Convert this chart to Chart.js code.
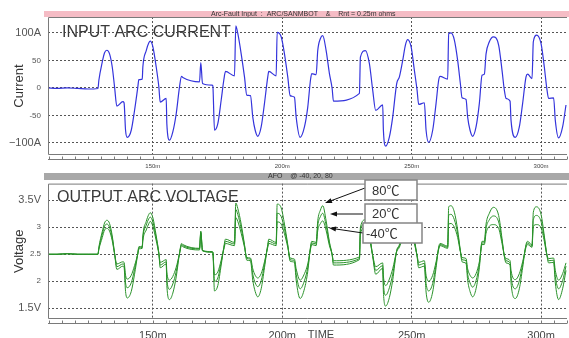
<!DOCTYPE html>
<html>
<head>
<meta charset="utf-8">
<script src="https://cdn.jsdelivr.net/npm/chart.js@4"></script>
<style>
  body { margin: 0; background: #fff; }
  #wrap { position: relative; width: 569px; height: 338px; overflow: hidden; background: #fff; }
  canvas { position: absolute; left: 0; }
  #currentChart { top: 0; }
  #voltageChart { top: 170px; }
</style>
</head>
<body>
<div id="wrap">
  <canvas id="currentChart" width="569" height="170"></canvas>
  <canvas id="voltageChart" width="569" height="168"></canvas>
</div>
<script>
// sample times in ms
const timeMs = [109.5, 113, 117, 121, 125, 128.8,
  129.15, 130.46, 131.35, 132.24, 133.28, 134.32, 135.21, 136.1, 138.42, 138.88,
  139.46, 140.12, 141.66, 142.93, 144.21, 144.59, 145.91, 146.14, 147.45, 148.46,
  149.0, 150.0, 151.31, 152.32, 152.86, 155.17, 155.41, 156.45, 157.72, 159.03,
  160.31, 161.08, 161.58, 168.03, 168.53, 169.19, 172.86, 173.17, 173.82, 175.1,
  176.41, 177.41, 178.07, 181.54, 182.05, 182.82, 184.13, 185.41, 186.29, 187.72,
  188.61, 189.54, 190.54, 191.85, 193.13, 194.4, 194.79, 197.64, 198.03, 199.58,
  200.85, 202.12, 203.05, 204.71, 205.37, 206.91, 208.57, 209.85, 210.89, 211.39,
  213.09, 213.71, 214.75, 215.64, 216.95, 218.22, 219.27, 219.77, 229.81, 230.19,
  232.12, 233.67, 234.94, 236.1, 238.8, 239.07, 239.96, 241.39, 242.66, 244.21,
  245.25, 246.53, 247.57, 248.46, 249.77, 251.04, 252.08, 252.7, 254.9, 255.56,
  256.56, 258.11, 259.42, 260.42, 260.96, 263.9, 264.29, 265.21, 266.49, 267.76,
  268.8, 269.46, 271.0, 271.62, 272.55, 273.55, 274.86, 276.14, 277.18, 278.07,
  278.73, 280.0, 281.54, 283.59, 284.9, 285.79, 286.45, 288.0, 288.38, 290.04,
  291.58, 292.86, 294.17, 294.79, 296.49, 296.99, 298.26, 299.96, 301.24, 302.12,
  302.9, 304.83, 305.48, 306.76, 308.3, 309.61];

const currentA = [0, -1, 0, -1, -2, -1,
  14, 47, 64, 68.5, 62, 38, 2, -33, -25, -27,
  -77, -90, -77, -41, 2, 15, 16, 38, 68, 82,
  85, 75, 38, 2, -26, -19, -65, -95, -80, -47,
  2, 21, 19, 11, 46, 8, 5, 4, -77, -65,
  -22, 14, 30, 22, 113, 99, 62, 20, -13, -14,
  -53, -77, -88, -71, -28, 20, 30, 22, 101, 93,
  62, 20, -14, -17, -53, -90, -71, -35, 14, 26,
  24, 68, 90, 95, 68, 26, -1, -24, -10, 56,
  68, 44, -4, -41, -31, -77, -106, -89, -53, 8,
  20, 50, 78, 88, 75, 32, -4, -30, -27, -77,
  -99, -77, -28, 14, 21, 16, 99, 100, 87, 50,
  8, -18, -21, -53, -77, -88, -71, -28, 23, 25,
  62, 84, 93, 78, 32, -4, -19, -24, -59, -90,
  -71, -28, 20, 25, 17, 84, 96, 81, 38, 2,
  -19, -18, -59, -91, -71, -31];

const volt80 = [2.50, 2.50, 2.51, 2.50, 2.50, 2.50,
  2.63, 2.92, 3.08, 3.13, 3.07, 2.84, 2.52, 2.22, 2.28, 2.26,
  1.81, 1.69, 1.81, 2.13, 2.52, 2.64, 2.65, 2.84, 3.11, 3.24,
  3.27, 3.18, 2.84, 2.52, 2.25, 2.32, 1.92, 1.66, 1.78, 2.08,
  2.52, 2.70, 2.68, 2.61, 2.93, 2.57, 2.55, 2.54, 1.82, 1.92,
  2.30, 2.63, 2.78, 2.72, 3.45, 3.35, 3.06, 2.68, 2.39, 2.38,
  2.02, 1.81, 1.71, 1.86, 2.25, 2.68, 2.78, 2.72, 3.43, 3.36,
  3.06, 2.68, 2.37, 2.35, 2.02, 1.68, 1.86, 2.18, 2.63, 2.74,
  2.72, 3.12, 3.32, 3.40, 3.12, 2.73, 2.49, 2.30, 2.40, 3.00,
  3.14, 2.90, 2.46, 2.13, 2.24, 1.80, 1.54, 1.70, 2.02, 2.57,
  2.68, 2.95, 3.20, 3.33, 3.20, 2.79, 2.46, 2.25, 2.28, 1.80,
  1.61, 1.80, 2.25, 2.63, 2.70, 2.65, 3.38, 3.40, 3.28, 2.95,
  2.57, 2.36, 2.33, 2.02, 1.81, 1.71, 1.86, 2.25, 2.74, 2.74,
  3.06, 3.26, 3.37, 3.22, 2.79, 2.46, 2.34, 2.30, 1.97, 1.68,
  1.86, 2.25, 2.68, 2.74, 2.67, 3.28, 3.38, 3.24, 2.84, 2.52,
  2.34, 2.35, 1.97, 1.66, 1.86, 2.20];

const volt20 = [2.50, 2.50, 2.51, 2.50, 2.50, 2.50,
  2.61, 2.87, 3.02, 3.06, 3.00, 2.80, 2.52, 2.27, 2.32, 2.31,
  1.97, 1.88, 1.97, 2.22, 2.52, 2.62, 2.63, 2.80, 3.04, 3.16,
  3.19, 3.10, 2.80, 2.52, 2.30, 2.36, 2.05, 1.85, 1.95, 2.18,
  2.52, 2.68, 2.66, 2.60, 2.91, 2.57, 2.54, 2.54, 2.00, 2.06,
  2.35, 2.61, 2.74, 2.69, 3.33, 3.24, 2.98, 2.66, 2.42, 2.41,
  2.13, 1.97, 1.90, 2.01, 2.31, 2.66, 2.74, 2.69, 3.26, 3.20,
  2.97, 2.66, 2.40, 2.38, 2.13, 1.86, 2.01, 2.26, 2.61, 2.71,
  2.69, 3.03, 3.20, 3.26, 3.03, 2.70, 2.49, 2.34, 2.42, 2.95,
  3.07, 2.85, 2.47, 2.20, 2.29, 1.96, 1.74, 1.88, 2.13, 2.56,
  2.66, 2.89, 3.11, 3.23, 3.12, 2.75, 2.47, 2.30, 2.33, 1.96,
  1.82, 1.96, 2.31, 2.61, 2.68, 2.63, 3.22, 3.24, 3.14, 2.88,
  2.56, 2.40, 2.38, 2.13, 1.97, 1.89, 2.01, 2.31, 2.71, 2.71,
  2.98, 3.14, 3.21, 3.10, 2.75, 2.47, 2.38, 2.34, 2.09, 1.86,
  2.01, 2.31, 2.66, 2.71, 2.65, 3.14, 3.22, 3.11, 2.80, 2.52,
  2.38, 2.39, 2.09, 1.86, 2.01, 2.28];

const voltM40 = [2.50, 2.50, 2.51, 2.50, 2.50, 2.50,
  2.59, 2.81, 2.95, 2.98, 2.93, 2.75, 2.51, 2.32, 2.36, 2.35,
  2.11, 2.04, 2.11, 2.29, 2.51, 2.60, 2.61, 2.75, 2.95, 3.07,
  3.11, 3.02, 2.75, 2.51, 2.35, 2.40, 2.17, 2.02, 2.09, 2.26,
  2.51, 2.66, 2.64, 2.58, 2.89, 2.56, 2.54, 2.53, 2.12, 2.17,
  2.39, 2.59, 2.70, 2.66, 3.18, 3.11, 2.89, 2.63, 2.44, 2.43,
  2.23, 2.11, 2.06, 2.14, 2.36, 2.63, 2.70, 2.66, 3.10, 3.06,
  2.88, 2.63, 2.43, 2.41, 2.23, 2.02, 2.14, 2.32, 2.59, 2.68,
  2.66, 2.94, 3.07, 3.12, 2.94, 2.66, 2.50, 2.38, 2.45, 2.88,
  3.00, 2.79, 2.48, 2.27, 2.34, 2.10, 1.92, 2.04, 2.23, 2.55,
  2.63, 2.82, 3.00, 3.12, 3.02, 2.70, 2.48, 2.35, 2.38, 2.11,
  2.00, 2.11, 2.36, 2.59, 2.66, 2.61, 3.06, 3.07, 3.00, 2.81,
  2.55, 2.44, 2.42, 2.23, 2.11, 2.06, 2.14, 2.36, 2.68, 2.68,
  2.89, 3.02, 3.05, 2.98, 2.70, 2.48, 2.42, 2.38, 2.20, 2.03,
  2.14, 2.36, 2.63, 2.68, 2.63, 3.02, 3.05, 2.99, 2.74, 2.51,
  2.42, 2.43, 2.20, 2.02, 2.14, 2.34];

const timeTicks = [150, 200, 250, 300];
const timeTickLabels = ['150m', '200m', '250m', '300m'];
const currentTicks = [-100, -50, 0, 50, 100];
const currentTickLabels = ['\u2212100A', '-50', '0', '50', '100A'];
const voltageTicks = [1.5, 2, 2.5, 3, 3.5];
const voltageTickLabels = ['1.5V', '2', '2.5', '3', '3.5V'];
const tempLabels = ['80\u2103', '20\u2103', '-40\u2103'];

const FONT = '"Liberation Sans", Arial, sans-serif';
Chart.defaults.font.family = FONT;

function pts(values) {
    return timeMs.map((t, i) => ({ x: t, y: values[i] }));
}

function xScale(labelSize, labelPad, height) {
    return {
        type: 'linear',
        min: 109.5,
        max: 310,
        afterFit(s) { s.height = height; },
        afterBuildTicks(s) { s.ticks = timeTicks.map(v => ({ value: v })); },
        grid: { color: '#555', lineWidth: 1, drawTicks: false, borderDash: [2, 2] },
        border: { display: false, dash: [2, 2] },
        ticks: {
            padding: labelPad,
            color: '#444',
            maxRotation: 0,
            autoSkip: false,
            font: { size: labelSize },
            callback: (v, i) => timeTickLabels[i]
        }
    };
}

function yScale(min, max, ticks, labels, title) {
    return {
        type: 'linear',
        min: min,
        max: max,
        afterFit(s) { s.width = 48; },
        afterBuildTicks(s) { s.ticks = ticks.map(v => ({ value: v })); },
        grid: { color: '#555', lineWidth: 1, drawTicks: false, borderDash: [2, 2] },
        border: { display: false, dash: [2, 2] },
        ticks: {
            padding: 7,
            color: '#555',
            font: c => ({ size: (c.index === 0 || c.index === ticks.length - 1) ? 11 : 8, family: FONT }),
            callback: (v, i) => labels[i]
        },
        title: {
            display: true,
            text: title,
            color: '#333',
            font: { size: 13 },
            padding: { top: 12, bottom: 0 }
        }
    };
}

// header strip, plot frame, time rail and the big caption
const scopeDecor = {
    id: 'scopeDecor',
    beforeDraw(chart, args, opts) {
        const ctx = chart.ctx;
        ctx.save();
        ctx.fillStyle = opts.barColor;
        ctx.fillRect(44, opts.barTop, chart.width - 44, opts.barHeight);
        ctx.fillStyle = '#333';
        ctx.font = '7px ' + FONT;
        ctx.textBaseline = 'middle';
        ctx.fillText(opts.barText, opts.barTextX, opts.barTop + opts.barHeight / 2);
        ctx.restore();
    },
    afterDraw(chart, args, opts) {
        const { ctx, chartArea: a } = chart;
        const x = chart.scales.x;
        ctx.save();
        ctx.strokeStyle = '#7a7a7a';
        ctx.lineWidth = 1;
        ctx.beginPath();
        ctx.moveTo(a.right, a.top + 0.5);
        ctx.lineTo(a.left + 0.5, a.top + 0.5);
        ctx.lineTo(a.left + 0.5, a.bottom - 0.5);
        ctx.lineTo(a.right, a.bottom - 0.5);
        ctx.stroke();

        const railY = Math.round(a.bottom + 4) + 0.5;
        ctx.beginPath();
        ctx.moveTo(a.left, railY);
        ctx.lineTo(a.right, railY);
        for (let t = 110; t <= 310; t += 5) {
            const px = Math.round(x.getPixelForValue(t)) + 0.5;
            ctx.moveTo(px, railY);
            ctx.lineTo(px, railY - 3);
        }
        ctx.stroke();

        ctx.fillStyle = '#3a3a3a';
        ctx.font = '16px ' + FONT;
        ctx.textBaseline = 'middle';
        ctx.fillText(opts.caption, opts.captionX, opts.captionY);
        if (opts.axisName) {
            ctx.font = '11px ' + FONT;
            ctx.fillStyle = '#444';
            ctx.textAlign = 'center';
            ctx.fillText(opts.axisName, 321, a.bottom + 16);
        }
        ctx.restore();
    }
};

// temperature call-outs with arrows
const tempCallouts = {
    id: 'tempCallouts',
    afterDraw(chart) {
        const ctx = chart.ctx;
        const boxes = [[365, 10, 52, 20], [365, 34, 52, 21], [363, 53, 59, 20]];
        const arrows = [[365, 18, 325, 33], [363, 44, 330, 44], [363, 63, 329, 58]];
        const textPos = [[372, 21], [372, 44], [366, 64]];
        ctx.save();
        ctx.strokeStyle = '#111';
        ctx.fillStyle = '#111';
        ctx.lineWidth = 1;
        arrows.forEach(([x1, y1, x2, y2]) => {
            const ang = Math.atan2(y2 - y1, x2 - x1);
            ctx.beginPath();
            ctx.moveTo(x1, y1);
            ctx.lineTo(x2 - 5 * Math.cos(ang), y2 - 5 * Math.sin(ang));
            ctx.stroke();
            ctx.beginPath();
            ctx.moveTo(x2, y2);
            ctx.lineTo(x2 - 7 * Math.cos(ang) + 2.5 * Math.sin(ang), y2 - 7 * Math.sin(ang) - 2.5 * Math.cos(ang));
            ctx.lineTo(x2 - 7 * Math.cos(ang) - 2.5 * Math.sin(ang), y2 - 7 * Math.sin(ang) + 2.5 * Math.cos(ang));
            ctx.closePath();
            ctx.fill();
        });
        boxes.forEach(([bx, by, bw, bh], i) => {
            ctx.fillStyle = '#fff';
            ctx.fillRect(bx, by, bw, bh);
            ctx.strokeStyle = '#858585';
            ctx.lineWidth = 1.5;
            ctx.strokeRect(bx, by, bw, bh);
            ctx.fillStyle = '#333';
            ctx.font = '13px ' + FONT + ', "Noto Sans CJK KR"';
            ctx.textBaseline = 'middle';
            ctx.fillText(tempLabels[i], textPos[i][0], textPos[i][1]);
        });
        ctx.restore();
    }
};

const common = {
    responsive: false,
    animation: false,
    devicePixelRatio: 1,
    events: [],
    plugins: { legend: { display: false }, tooltip: { enabled: false } }
};

new Chart(document.getElementById('currentChart'), {
    type: 'line',
    data: {
        datasets: [{
            data: pts(currentA),
            borderColor: '#3434dc',
            borderWidth: 1.2,
            pointRadius: 0,
            cubicInterpolationMode: 'monotone'
        }]
    },
    options: Object.assign({}, common, {
        layout: { padding: { top: 17, left: 0, right: 2, bottom: 0 } },
        scales: {
            x: xScale(6, 8, 15),
            y: yScale(-122, 129, currentTicks, currentTickLabels, 'Current')
        },
        plugins: Object.assign({}, common.plugins, {
            scopeDecor: {
                barColor: '#f5bcc5', barTop: 11, barHeight: 6,
                barText: 'Arc-Fault Input  :  ARC/SANMBOT    &    Rnt = 0.25m ohms', barTextX: 211,
                caption: 'INPUT ARC CURRENT', captionX: 62, captionY: 33
            }
        })
    }),
    plugins: [scopeDecor]
});

const greenLine = values => ({
    data: pts(values),
    borderColor: '#2a922a',
    borderWidth: 1,
    pointRadius: 0,
    cubicInterpolationMode: 'monotone'
});

new Chart(document.getElementById('voltageChart'), {
    type: 'line',
    data: { datasets: [greenLine(volt80), greenLine(volt20), greenLine(voltM40)] },
    options: Object.assign({}, common, {
        layout: { padding: { top: 11, left: 0, right: 2, bottom: 0 } },
        scales: {
            x: xScale(11, 10, 19),
            y: yScale(1.3, 3.81, voltageTicks, voltageTickLabels, 'Voltage')
        },
        plugins: Object.assign({}, common.plugins, {
            scopeDecor: {
                barColor: '#a8a8a8', barTop: 3, barHeight: 7,
                barText: 'AFO    @ -40, 20, 80', barTextX: 268,
                caption: 'OUTPUT ARC VOLTAGE', captionX: 57, captionY: 28,
                axisName: 'TIME'
            }
        })
    }),
    plugins: [scopeDecor, tempCallouts]
});
</script>
</body>
</html>
